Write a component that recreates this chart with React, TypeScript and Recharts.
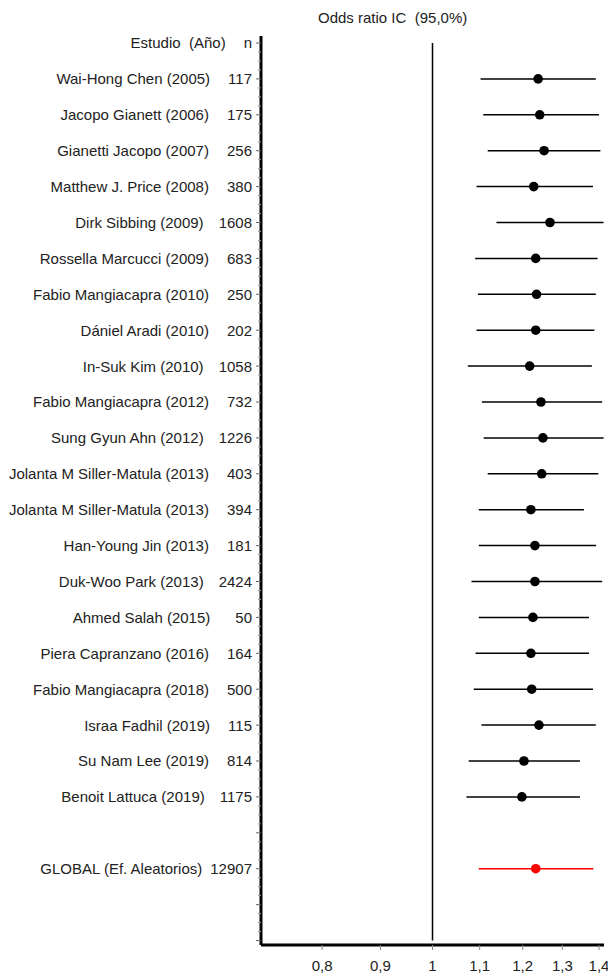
import React from 'react'
import {
  ComposedChart,
  Scatter,
  ErrorBar,
  XAxis,
  YAxis,
  ReferenceLine,
} from 'recharts'

// Studies, top to bottom
const studies = [
  'Wai-Hong Chen (2005)',
  'Jacopo Gianett (2006)',
  'Gianetti Jacopo (2007)',
  'Matthew J. Price (2008)',
  'Dirk Sibbing (2009)',
  'Rossella Marcucci (2009)',
  'Fabio Mangiacapra (2010)',
  'Dániel Aradi  (2010)',
  'In-Suk Kim (2010)',
  'Fabio Mangiacapra (2012)',
  'Sung Gyun Ahn (2012)',
  'Jolanta M Siller-Matula (2013)',
  'Jolanta M Siller-Matula (2013)',
  'Han-Young Jin (2013)',
  'Duk-Woo Park (2013)',
  'Ahmed Salah (2015)',
  'Piera Capranzano (2016)',
  'Fabio Mangiacapra (2018)',
  'Israa Fadhil (2019)',
  'Su Nam Lee (2019)',
  'Benoit Lattuca (2019)',
]
const sampleSizes = [117, 175, 256, 380, 1608, 683, 250, 202, 1058, 732, 1226, 403, 394, 181, 2424, 50, 164, 500, 115, 814, 1175]
const oddsRatios = [1.238, 1.242, 1.253, 1.227, 1.268, 1.232, 1.234, 1.232, 1.217, 1.245, 1.25, 1.247, 1.22, 1.23, 1.23, 1.225, 1.22, 1.222, 1.24, 1.203, 1.198]
const lowerCI = [1.102, 1.108, 1.118, 1.093, 1.138, 1.09, 1.096, 1.093, 1.074, 1.105, 1.109, 1.118, 1.098, 1.098, 1.082, 1.098, 1.091, 1.087, 1.104, 1.076, 1.071]
const upperCI = [1.391, 1.4, 1.404, 1.383, 1.413, 1.396, 1.391, 1.387, 1.38, 1.409, 1.413, 1.398, 1.358, 1.392, 1.409, 1.372, 1.372, 1.383, 1.391, 1.347, 1.347]

// Pooled random-effects estimate
const globalLabel = 'GLOBAL (Ef. Aleatorios)'
const globalN = 12907
const globalOR = 1.232
const globalLower = 1.098
const globalUpper = 1.384

const xTicks = [0.8, 0.9, 1, 1.1, 1.2, 1.3, 1.4]
const xDomain = [Math.SQRT1_2, Math.SQRT2]
const GLOBAL_ROW = studies.length + 2
const LAST_ROW = GLOBAL_ROW + 2

const studyData = studies.map((name, i) => ({
  row: i + 1,
  or: oddsRatios[i],
  ci: [oddsRatios[i] - lowerCI[i], upperCI[i] - oddsRatios[i]],
}))
const globalData = [
  { row: GLOBAL_ROW, or: globalOR, ci: [globalOR - globalLower, globalUpper - globalOR] },
]

// space between the study name and its n column
const gapFor = (n: string) => (n.length <= 2 ? 25 : n.length === 3 ? 18 : 15)

const rowLabels: Record<number, { name: string; n: string; gap: number }> = {
  0: { name: 'Estudio\u00a0\u00a0(Año)', n: 'n', gap: 18 },
  [GLOBAL_ROW]: { name: globalLabel, n: String(globalN), gap: 8 },
}
studies.forEach((name, i) => {
  const n = String(sampleSizes[i])
  rowLabels[i + 1] = { name, n, gap: gapFor(n) }
})

const yTicks: number[] = []
for (let i = 0; i <= LAST_ROW * 4; i++) yTicks.push(i / 4)

const font = '"Liberation Sans", Arial, sans-serif'

const RowTick = (props: any) => {
  const { x, y, payload } = props
  const v = payload.value
  if (!Number.isInteger(v)) {
    return <line x1={x - 3} x2={x} y1={y} y2={y} stroke="#999" strokeWidth={1} />
  }
  const label = rowLabels[v]
  return (
    <g>
      <line x1={x - 5} x2={x} y1={y} y2={y} stroke="#666" strokeWidth={1} />
      {label && (
        <text x={x - 9} y={y} dy="0.36em" textAnchor="end" fontSize={15} fill="#222" fontFamily={font}>
          <tspan>{label.name}</tspan>
          <tspan dx={label.gap}>{label.n}</tspan>
        </text>
      )}
    </g>
  )
}

const Dot = (color: string) => (props: any) => (
  <circle cx={props.cx} cy={props.cy} r={4.8} fill={color} />
)

export default function App() {
  return (
    <div style={{ position: 'absolute', left: 0, top: 0, width: 608, height: 976, background: '#fff', fontFamily: font }}>
      <div style={{ position: 'absolute', left: 318, top: 9, fontSize: 15, color: '#222', whiteSpace: 'pre' }}>
        Odds ratio IC  (95,0%)
      </div>
      <ComposedChart width={608} height={976} margin={{ top: 36, right: 4, bottom: 0, left: 0 }}>
        <XAxis
          type="number"
          dataKey="or"
          scale="log"
          domain={xDomain}
          allowDataOverflow
          ticks={xTicks}
          interval={0}
          height={31}
          tickSize={5}
          tickMargin={10}
          tickFormatter={(v: number) => String(v).replace('.', ',')}
          tick={{ fontSize: 15, fill: '#222', fontFamily: font }}
          tickLine={{ stroke: '#888' }}
          axisLine={{ stroke: '#000', strokeWidth: 3 }}
        />
        <XAxis
          xAxisId="top"
          orientation="top"
          type="number"
          domain={[0, 1]}
          height={0}
          tick={false}
          tickLine={false}
          axisLine={{ stroke: '#444', strokeWidth: 2 }}
        />
        <YAxis
          type="number"
          dataKey="row"
          reversed
          domain={[-0.195, 25.125]}
          allowDataOverflow
          ticks={yTicks}
          interval={0}
          width={261}
          tickSize={0}
          tickMargin={0}
          tickLine={false}
          tick={<RowTick />}
          axisLine={{ stroke: '#000', strokeWidth: 3 }}
        />
        <YAxis
          yAxisId="right"
          orientation="right"
          type="number"
          domain={[0, 1]}
          width={0}
          tick={false}
          tickLine={false}
          axisLine={{ stroke: '#444', strokeWidth: 2 }}
        />
        <ReferenceLine
          segment={[{ x: 1, y: 0 }, { x: 1, y: LAST_ROW }]}
          stroke="#000"
          strokeWidth={1.5}
        />
        <Scatter data={studyData} fill="#000" shape={Dot('#000')} isAnimationActive={false}>
          <ErrorBar dataKey="ci" direction="x" width={0} stroke="#000" strokeWidth={1.5} />
        </Scatter>
        <Scatter data={globalData} fill="#ff0000" shape={Dot('#ff0000')} isAnimationActive={false}>
          <ErrorBar dataKey="ci" direction="x" width={0} stroke="#ff0000" strokeWidth={1.5} />
        </Scatter>
      </ComposedChart>
    </div>
  )
}
